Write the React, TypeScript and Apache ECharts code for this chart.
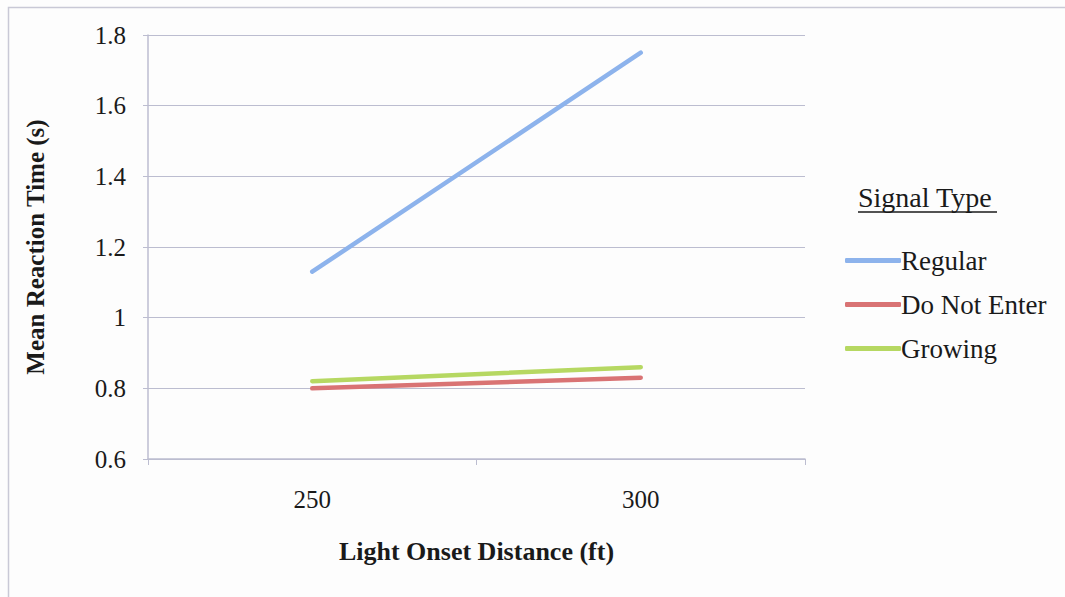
import React, { useEffect, useRef } from "react";
import * as echarts from "echarts";

const categories = ["250", "300"];
const regular = [1.13, 1.75];
const doNotEnter = [0.8, 0.83];
const growing = [0.82, 0.86];
const seriesNames = ["Regular", "Do Not Enter", "Growing"];
const seriesColors = ["#8db3ec", "#d97374", "#b6d862"];

const FONT = "Liberation Serif";
const AXIS_COLOR = "#bcbdd0";

export default function App() {
  const ref = useRef<HTMLDivElement>(null);
  useEffect(() => {
    if (!ref.current) return;
    const chart = echarts.init(ref.current, null, { renderer: "svg" });
    const data = [regular, doNotEnter, growing];
    chart.setOption({
      animation: false,
      backgroundColor: "#fdfdfd",
      textStyle: { fontFamily: FONT },
      grid: { left: 148, right: 260, top: 35, bottom: 138 },
      xAxis: {
        type: "category",
        data: categories,
        boundaryGap: true,
        name: "Light Onset Distance (ft)",
        nameLocation: "middle",
        nameGap: 79,
        nameTextStyle: { fontFamily: FONT, fontSize: 26, fontWeight: "bold", color: "#1a1a1a" },
        axisLine: { lineStyle: { color: AXIS_COLOR, width: 1.5 } },
        axisTick: { show: true, length: 6, lineStyle: { color: AXIS_COLOR } },
        axisLabel: { fontFamily: FONT, fontSize: 25, color: "#1a1a1a", margin: 28 },
        splitLine: { show: false },
      },
      yAxis: {
        type: "value",
        min: 0.6,
        max: 1.8,
        interval: 0.2,
        name: "Mean Reaction Time (s)",
        nameLocation: "middle",
        nameGap: 100,
        nameTextStyle: { fontFamily: FONT, fontSize: 25, fontWeight: "bold", color: "#1a1a1a" },
        axisLine: { show: true, lineStyle: { color: AXIS_COLOR, width: 1.5 } },
        axisTick: { show: true, length: 5, lineStyle: { color: AXIS_COLOR } },
        axisLabel: {
          fontFamily: FONT,
          fontSize: 25,
          color: "#1a1a1a",
          margin: 22,
          formatter: (v: number) => String(parseFloat(v.toFixed(1))),
        },
        splitLine: { show: true, lineStyle: { color: AXIS_COLOR, width: 1.2 } },
      },
      legend: {
        orient: "vertical",
        left: 840,
        top: 242,
        itemWidth: 56,
        itemHeight: 5,
        itemGap: 17,
        icon: "roundRect",
        textStyle: { fontFamily: FONT, fontSize: 27, color: "#1a1a1a", padding: [0, 0, 0, -5] },
        data: seriesNames,
      },
      series: seriesNames.map((name, i) => ({
        name,
        type: "line",
        data: data[i],
        symbol: "none",
        color: seriesColors[i],
        lineStyle: { width: 4.5, color: seriesColors[i], cap: "round" },
      })),
      graphic: [
        {
          type: "rect",
          shape: { x: 8.5, y: 7.5, width: 1200, height: 700 },
          style: { fill: "none", stroke: "#c9c9d6", lineWidth: 1.5 },
          silent: true,
        },
        {
          type: "text",
          left: 858,
          top: 183,
          style: { text: "Signal Type", font: `28px "${FONT}"`, fill: "#1a1a1a" },
        },
        {
          type: "line",
          shape: { x1: 858, y1: 212, x2: 997, y2: 212 },
          style: { stroke: "#1a1a1a", lineWidth: 1.5 },
        },
      ],
    });
    return () => chart.dispose();
  }, []);
  return (
    <div
      ref={ref}
      style={{ position: "fixed", left: 0, top: 0, width: 1065, height: 597 }}
    />
  );
}
